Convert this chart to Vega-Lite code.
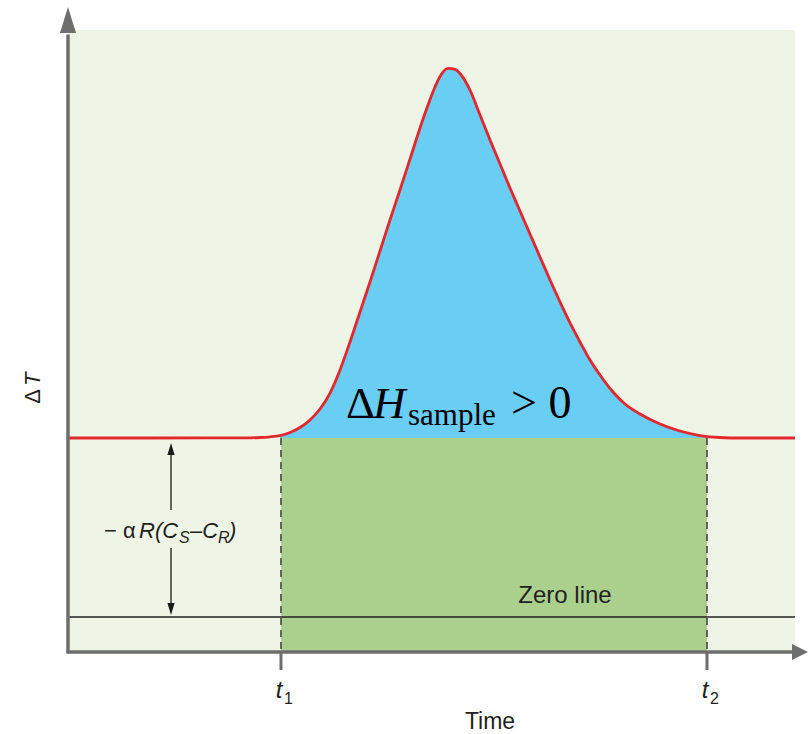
{
  "$schema": "https://vega.github.io/schema/vega-lite/v6.json",
  "width": 740,
  "height": 642,
  "autosize": "none",
  "padding": {"left": 68, "top": 10, "right": 0, "bottom": 82},
  "background": "white",
  "config": {"view": {"stroke": null}, "axis": {"grid": false}},
  "datasets": {
    "curve": [
      {"time": 0, "dT": 33.33}, {"time": 11.08, "dT": 33.33}, {"time": 24.6, "dT": 33.36},
      {"time": 25.95, "dT": 33.41}, {"time": 27.3, "dT": 33.52}, {"time": 28.65, "dT": 33.72},
      {"time": 30.0, "dT": 34.19}, {"time": 31.35, "dT": 34.97}, {"time": 32.7, "dT": 36.14},
      {"time": 34.05, "dT": 37.85}, {"time": 35.41, "dT": 40.34}, {"time": 36.76, "dT": 43.93},
      {"time": 38.11, "dT": 48.29}, {"time": 39.46, "dT": 52.96}, {"time": 40.81, "dT": 57.63},
      {"time": 42.16, "dT": 62.46}, {"time": 43.51, "dT": 67.29}, {"time": 44.86, "dT": 71.96},
      {"time": 46.22, "dT": 76.79}, {"time": 47.57, "dT": 81.62}, {"time": 48.65, "dT": 85.2},
      {"time": 49.59, "dT": 88.0}, {"time": 50.41, "dT": 89.9}, {"time": 51.35, "dT": 90.9},
      {"time": 52.3, "dT": 90.75}, {"time": 52.97, "dT": 90.1}, {"time": 54.32, "dT": 87.54},
      {"time": 55.68, "dT": 83.64}, {"time": 57.03, "dT": 79.75}, {"time": 58.38, "dT": 76.01},
      {"time": 59.73, "dT": 72.27}, {"time": 61.08, "dT": 68.69}, {"time": 62.43, "dT": 65.11},
      {"time": 63.78, "dT": 61.53}, {"time": 65.14, "dT": 57.94}, {"time": 66.49, "dT": 54.52},
      {"time": 67.84, "dT": 51.25}, {"time": 69.19, "dT": 48.29}, {"time": 70.54, "dT": 45.48},
      {"time": 71.89, "dT": 43.15}, {"time": 73.65, "dT": 40.5}, {"time": 75.27, "dT": 38.63},
      {"time": 77.3, "dT": 37.07}, {"time": 80.0, "dT": 35.51}, {"time": 82.7, "dT": 34.42},
      {"time": 85.41, "dT": 33.72}, {"time": 88.11, "dT": 33.41}, {"time": 90.81, "dT": 33.33},
      {"time": 98.24, "dT": 33.33}
    ],
    "bg": [{"x0": 0, "x1": 98.24, "y0": 0, "y1": 96.9}],
    "band": [{"t1": 28.78, "t2": 86.35, "lo": 0, "base": 33.33}],
    "limits": [
      {"time": 28.78, "top": 33.33, "bottom": 0, "tickEnd": -2.8, "label": "t", "sub": "1"},
      {"time": 86.35, "top": 33.33, "bottom": 0, "tickEnd": -2.8, "label": "t", "sub": "2"}
    ],
    "zero": [{"x0": 0, "x1": 98.24, "y": 5.45}],
    "axes": [
      {"id": "y", "x0": 0, "x1": 0, "y0": -0.2, "y1": 96.2},
      {"id": "x", "x0": -0.2, "x1": 98.6, "y0": 0, "y1": 0}
    ],
    "heads": [
      {"id": "yhead", "time": 0, "dT": 98.44},
      {"id": "xhead", "time": 98.92, "dT": 0}
    ],
    "span": [
      {"id": "upper", "time": 13.92, "from": 31.0, "to": 22.12},
      {"id": "lower", "time": 13.92, "from": 16.2, "to": 7.5}
    ],
    "spanHeads": [
      {"id": "up", "time": 13.92, "dT": 31.62},
      {"id": "down", "time": 13.92, "dT": 6.7}
    ],
    "anno": [
      {"id": "delta", "time": 37.57, "dT": 36.45, "text": "Δ"},
      {"id": "H", "time": 37.57, "dT": 36.45, "text": "H"},
      {"id": "sample", "time": 37.57, "dT": 36.45, "text": "sample"},
      {"id": "gt", "time": 37.57, "dT": 36.45, "text": "> 0"},
      {"id": "zero", "time": 67.16, "dT": 7.63, "text": "Zero line"},
      {"id": "timeTitle", "time": 57.03, "dT": -12.0, "text": "Time"},
      {"id": "minus", "time": 13.92, "dT": 17.76, "text": "− α"},
      {"id": "RC", "time": 13.92, "dT": 17.76, "text": "R(C"},
      {"id": "S", "time": 13.92, "dT": 17.76, "text": "S"},
      {"id": "dashC", "time": 13.92, "dT": 17.76, "text": "–C"},
      {"id": "R", "time": 13.92, "dT": 17.76, "text": "R"},
      {"id": "close", "time": 13.92, "dT": 17.76, "text": ")"},
      {"id": "ylabDelta", "time": -3.78, "dT": 41.12, "text": "Δ"},
      {"id": "ylabT", "time": -3.78, "dT": 41.12, "text": "T"}
    ]
  },
  "layer": [
    {
      "data": {"name": "bg"},
      "mark": {"type": "rect", "color": "#eef5e6"},
      "encoding": {
        "x": {"field": "x0", "type": "quantitative", "scale": {"domain": [0, 100], "nice": false, "zero": false}, "axis": null},
        "x2": {"field": "x1"},
        "y": {"field": "y0", "type": "quantitative", "scale": {"domain": [0, 100], "nice": false, "zero": false}, "axis": null},
        "y2": {"field": "y1"}
      }
    },
    {
      "data": {"name": "band"},
      "mark": {"type": "rect", "color": "#abd08d"},
      "encoding": {
        "x": {"field": "t1", "type": "quantitative", "scale": {"domain": [0, 100], "nice": false, "zero": false}, "axis": null},
        "x2": {"field": "t2"},
        "y": {"field": "lo", "type": "quantitative", "scale": {"domain": [0, 100], "nice": false, "zero": false}, "axis": null},
        "y2": {"field": "base"}
      }
    },
    {
      "data": {"name": "curve"},
      "transform": [{"filter": "datum.time >= 28.6 && datum.time <= 88.2"}],
      "mark": {"type": "area", "color": "#69cdf4", "interpolate": "monotone", "opacity": 1},
      "encoding": {
        "x": {"field": "time", "type": "quantitative", "scale": {"domain": [0, 100], "nice": false, "zero": false}, "axis": null},
        "y": {"field": "dT", "type": "quantitative", "scale": {"domain": [0, 100], "nice": false, "zero": false}, "axis": null},
        "y2": {"datum": 33.33}
      }
    },
    {
      "data": {"name": "zero"},
      "mark": {"type": "rule", "color": "#222222", "strokeWidth": 1.4},
      "encoding": {
        "x": {"field": "x0", "type": "quantitative", "scale": {"domain": [0, 100], "nice": false, "zero": false}, "axis": null},
        "x2": {"field": "x1"},
        "y": {"field": "y", "type": "quantitative", "scale": {"domain": [0, 100], "nice": false, "zero": false}, "axis": null}
      }
    },
    {
      "data": {"name": "limits"},
      "mark": {"type": "rule", "color": "#333333", "strokeWidth": 1.4, "strokeDash": [7, 5]},
      "encoding": {
        "x": {"field": "time", "type": "quantitative", "scale": {"domain": [0, 100], "nice": false, "zero": false}, "axis": null},
        "y": {"field": "top", "type": "quantitative", "scale": {"domain": [0, 100], "nice": false, "zero": false}, "axis": null},
        "y2": {"field": "bottom"}
      }
    },
    {
      "data": {"name": "limits"},
      "mark": {"type": "rule", "color": "#6e6e6e", "strokeWidth": 3},
      "encoding": {
        "x": {"field": "time", "type": "quantitative", "scale": {"domain": [0, 100], "nice": false, "zero": false}, "axis": null},
        "y": {"field": "bottom", "type": "quantitative", "scale": {"domain": [0, 100], "nice": false, "zero": false}, "axis": null},
        "y2": {"field": "tickEnd"}
      }
    },
    {
      "data": {"name": "curve"},
      "mark": {"type": "line", "color": "#e4262d", "strokeWidth": 2.8, "interpolate": "monotone"},
      "encoding": {
        "x": {"field": "time", "type": "quantitative", "scale": {"domain": [0, 100], "nice": false, "zero": false}, "axis": null},
        "y": {"field": "dT", "type": "quantitative", "scale": {"domain": [0, 100], "nice": false, "zero": false}, "axis": null}
      }
    },
    {
      "data": {"name": "axes"},
      "mark": {"type": "rule", "color": "#6e6e6e", "strokeWidth": 3.5},
      "encoding": {
        "x": {"field": "x0", "type": "quantitative", "scale": {"domain": [0, 100], "nice": false, "zero": false}, "axis": null},
        "x2": {"field": "x1"},
        "y": {"field": "y0", "type": "quantitative", "scale": {"domain": [0, 100], "nice": false, "zero": false}, "axis": null},
        "y2": {"field": "y1"}
      }
    },
    {
      "data": {"name": "heads"},
      "transform": [{"filter": "datum.id === 'yhead'"}],
      "mark": {"type": "point", "shape": "M0,-1L0.62,1L-0.62,1Z", "size": 676, "filled": true, "color": "#6e6e6e", "opacity": 1},
      "encoding": {
        "x": {"field": "time", "type": "quantitative", "scale": {"domain": [0, 100], "nice": false, "zero": false}, "axis": null},
        "y": {"field": "dT", "type": "quantitative", "scale": {"domain": [0, 100], "nice": false, "zero": false}, "axis": null}
      }
    },
    {
      "data": {"name": "heads"},
      "transform": [{"filter": "datum.id === 'xhead'"}],
      "mark": {"type": "point", "shape": "M1,0L-1,1L-1,-1Z", "size": 256, "filled": true, "color": "#6e6e6e", "opacity": 1},
      "encoding": {
        "x": {"field": "time", "type": "quantitative", "scale": {"domain": [0, 100], "nice": false, "zero": false}, "axis": null},
        "y": {"field": "dT", "type": "quantitative", "scale": {"domain": [0, 100], "nice": false, "zero": false}, "axis": null}
      }
    },
    {
      "data": {"name": "span"},
      "mark": {"type": "rule", "color": "#1a1a1a", "strokeWidth": 1.3},
      "encoding": {
        "x": {"field": "time", "type": "quantitative", "scale": {"domain": [0, 100], "nice": false, "zero": false}, "axis": null},
        "y": {"field": "from", "type": "quantitative", "scale": {"domain": [0, 100], "nice": false, "zero": false}, "axis": null},
        "y2": {"field": "to"}
      }
    },
    {
      "data": {"name": "spanHeads"},
      "transform": [{"filter": "datum.id === 'up'"}],
      "mark": {"type": "point", "shape": "M0,-1L0.6,1L-0.6,1Z", "size": 144, "filled": true, "color": "#1a1a1a", "opacity": 1},
      "encoding": {
        "x": {"field": "time", "type": "quantitative", "scale": {"domain": [0, 100], "nice": false, "zero": false}, "axis": null},
        "y": {"field": "dT", "type": "quantitative", "scale": {"domain": [0, 100], "nice": false, "zero": false}, "axis": null}
      }
    },
    {
      "data": {"name": "spanHeads"},
      "transform": [{"filter": "datum.id === 'down'"}],
      "mark": {"type": "point", "shape": "M0,1L0.6,-1L-0.6,-1Z", "size": 144, "filled": true, "color": "#1a1a1a", "opacity": 1},
      "encoding": {
        "x": {"field": "time", "type": "quantitative", "scale": {"domain": [0, 100], "nice": false, "zero": false}, "axis": null},
        "y": {"field": "dT", "type": "quantitative", "scale": {"domain": [0, 100], "nice": false, "zero": false}, "axis": null}
      }
    },
    {
      "data": {"name": "limits"},
      "mark": {"type": "text", "font": "Liberation Sans", "fontSize": 24, "fontStyle": "italic", "align": "center", "baseline": "alphabetic", "dx": -2, "color": "#231f20"},
      "encoding": {
        "x": {"field": "time", "type": "quantitative", "scale": {"domain": [0, 100], "nice": false, "zero": false}, "axis": null},
        "y": {"datum": -7.2, "type": "quantitative", "scale": {"domain": [0, 100], "nice": false, "zero": false}, "axis": null},
        "text": {"field": "label"}
      }
    },
    {
      "data": {"name": "limits"},
      "mark": {"type": "text", "font": "Liberation Sans", "fontSize": 16, "align": "left", "baseline": "alphabetic", "dx": 3, "dy": 6, "color": "#231f20"},
      "encoding": {
        "x": {"field": "time", "type": "quantitative", "scale": {"domain": [0, 100], "nice": false, "zero": false}, "axis": null},
        "y": {"datum": -7.2, "type": "quantitative", "scale": {"domain": [0, 100], "nice": false, "zero": false}, "axis": null},
        "text": {"field": "sub"}
      }
    },
    {
      "data": {"name": "anno"},
      "transform": [{"filter": "datum.id === 'delta'"}],
      "mark": {"type": "text", "font": "Liberation Serif", "fontSize": 45, "align": "left", "baseline": "alphabetic", "color": "#000000"},
      "encoding": {
        "x": {"field": "time", "type": "quantitative", "scale": {"domain": [0, 100], "nice": false, "zero": false}, "axis": null},
        "y": {"field": "dT", "type": "quantitative", "scale": {"domain": [0, 100], "nice": false, "zero": false}, "axis": null},
        "text": {"field": "text"}
      }
    },
    {
      "data": {"name": "anno"},
      "transform": [{"filter": "datum.id === 'H'"}],
      "mark": {"type": "text", "font": "Liberation Serif", "fontSize": 45, "fontStyle": "italic", "align": "left", "baseline": "alphabetic", "dx": 27, "color": "#000000"},
      "encoding": {
        "x": {"field": "time", "type": "quantitative", "scale": {"domain": [0, 100], "nice": false, "zero": false}, "axis": null},
        "y": {"field": "dT", "type": "quantitative", "scale": {"domain": [0, 100], "nice": false, "zero": false}, "axis": null},
        "text": {"field": "text"}
      }
    },
    {
      "data": {"name": "anno"},
      "transform": [{"filter": "datum.id === 'sample'"}],
      "mark": {"type": "text", "font": "Liberation Serif", "fontSize": 31, "align": "left", "baseline": "alphabetic", "dx": 62, "dy": 7, "color": "#000000"},
      "encoding": {
        "x": {"field": "time", "type": "quantitative", "scale": {"domain": [0, 100], "nice": false, "zero": false}, "axis": null},
        "y": {"field": "dT", "type": "quantitative", "scale": {"domain": [0, 100], "nice": false, "zero": false}, "axis": null},
        "text": {"field": "text"}
      }
    },
    {
      "data": {"name": "anno"},
      "transform": [{"filter": "datum.id === 'gt'"}],
      "mark": {"type": "text", "font": "Liberation Serif", "fontSize": 46, "align": "left", "baseline": "alphabetic", "dx": 165, "color": "#000000"},
      "encoding": {
        "x": {"field": "time", "type": "quantitative", "scale": {"domain": [0, 100], "nice": false, "zero": false}, "axis": null},
        "y": {"field": "dT", "type": "quantitative", "scale": {"domain": [0, 100], "nice": false, "zero": false}, "axis": null},
        "text": {"field": "text"}
      }
    },
    {
      "data": {"name": "anno"},
      "transform": [{"filter": "datum.id === 'zero'"}],
      "mark": {"type": "text", "font": "Liberation Sans", "fontSize": 24, "align": "center", "baseline": "alphabetic", "color": "#231f20"},
      "encoding": {
        "x": {"field": "time", "type": "quantitative", "scale": {"domain": [0, 100], "nice": false, "zero": false}, "axis": null},
        "y": {"field": "dT", "type": "quantitative", "scale": {"domain": [0, 100], "nice": false, "zero": false}, "axis": null},
        "text": {"field": "text"}
      }
    },
    {
      "data": {"name": "anno"},
      "transform": [{"filter": "datum.id === 'timeTitle'"}],
      "mark": {"type": "text", "font": "Liberation Sans", "fontSize": 23, "align": "center", "baseline": "alphabetic", "color": "#231f20"},
      "encoding": {
        "x": {"field": "time", "type": "quantitative", "scale": {"domain": [0, 100], "nice": false, "zero": false}, "axis": null},
        "y": {"field": "dT", "type": "quantitative", "scale": {"domain": [0, 100], "nice": false, "zero": false}, "axis": null},
        "text": {"field": "text"}
      }
    },
    {
      "data": {"name": "anno"},
      "transform": [{"filter": "datum.id === 'minus'"}],
      "mark": {"type": "text", "font": "Liberation Sans", "fontSize": 22, "align": "left", "baseline": "alphabetic", "dx": -67, "color": "#231f20"},
      "encoding": {
        "x": {"field": "time", "type": "quantitative", "scale": {"domain": [0, 100], "nice": false, "zero": false}, "axis": null},
        "y": {"field": "dT", "type": "quantitative", "scale": {"domain": [0, 100], "nice": false, "zero": false}, "axis": null},
        "text": {"field": "text"}
      }
    },
    {
      "data": {"name": "anno"},
      "transform": [{"filter": "datum.id === 'RC'"}],
      "mark": {"type": "text", "font": "Liberation Sans", "fontSize": 22, "fontStyle": "italic", "align": "left", "baseline": "alphabetic", "dx": -32, "color": "#231f20"},
      "encoding": {
        "x": {"field": "time", "type": "quantitative", "scale": {"domain": [0, 100], "nice": false, "zero": false}, "axis": null},
        "y": {"field": "dT", "type": "quantitative", "scale": {"domain": [0, 100], "nice": false, "zero": false}, "axis": null},
        "text": {"field": "text"}
      }
    },
    {
      "data": {"name": "anno"},
      "transform": [{"filter": "datum.id === 'S'"}],
      "mark": {"type": "text", "font": "Liberation Sans", "fontSize": 16, "fontStyle": "italic", "align": "left", "baseline": "alphabetic", "dx": 8, "dy": 5, "color": "#231f20"},
      "encoding": {
        "x": {"field": "time", "type": "quantitative", "scale": {"domain": [0, 100], "nice": false, "zero": false}, "axis": null},
        "y": {"field": "dT", "type": "quantitative", "scale": {"domain": [0, 100], "nice": false, "zero": false}, "axis": null},
        "text": {"field": "text"}
      }
    },
    {
      "data": {"name": "anno"},
      "transform": [{"filter": "datum.id === 'dashC'"}],
      "mark": {"type": "text", "font": "Liberation Sans", "fontSize": 22, "fontStyle": "italic", "align": "left", "baseline": "alphabetic", "dx": 19, "color": "#231f20"},
      "encoding": {
        "x": {"field": "time", "type": "quantitative", "scale": {"domain": [0, 100], "nice": false, "zero": false}, "axis": null},
        "y": {"field": "dT", "type": "quantitative", "scale": {"domain": [0, 100], "nice": false, "zero": false}, "axis": null},
        "text": {"field": "text"}
      }
    },
    {
      "data": {"name": "anno"},
      "transform": [{"filter": "datum.id === 'R'"}],
      "mark": {"type": "text", "font": "Liberation Sans", "fontSize": 16, "fontStyle": "italic", "align": "left", "baseline": "alphabetic", "dx": 47, "dy": 5, "color": "#231f20"},
      "encoding": {
        "x": {"field": "time", "type": "quantitative", "scale": {"domain": [0, 100], "nice": false, "zero": false}, "axis": null},
        "y": {"field": "dT", "type": "quantitative", "scale": {"domain": [0, 100], "nice": false, "zero": false}, "axis": null},
        "text": {"field": "text"}
      }
    },
    {
      "data": {"name": "anno"},
      "transform": [{"filter": "datum.id === 'close'"}],
      "mark": {"type": "text", "font": "Liberation Sans", "fontSize": 22, "fontStyle": "italic", "align": "left", "baseline": "alphabetic", "dx": 58, "color": "#231f20"},
      "encoding": {
        "x": {"field": "time", "type": "quantitative", "scale": {"domain": [0, 100], "nice": false, "zero": false}, "axis": null},
        "y": {"field": "dT", "type": "quantitative", "scale": {"domain": [0, 100], "nice": false, "zero": false}, "axis": null},
        "text": {"field": "text"}
      }
    },
    {
      "data": {"name": "anno"},
      "transform": [{"filter": "datum.id === 'ylabDelta'"}],
      "mark": {"type": "text", "font": "Liberation Sans", "fontSize": 22, "angle": 270, "align": "right", "baseline": "alphabetic", "dx": -1, "color": "#231f20"},
      "encoding": {
        "x": {"field": "time", "type": "quantitative", "scale": {"domain": [0, 100], "nice": false, "zero": false}, "axis": null},
        "y": {"field": "dT", "type": "quantitative", "scale": {"domain": [0, 100], "nice": false, "zero": false}, "axis": null},
        "text": {"field": "text"}
      }
    },
    {
      "data": {"name": "anno"},
      "transform": [{"filter": "datum.id === 'ylabT'"}],
      "mark": {"type": "text", "font": "Liberation Sans", "fontSize": 22, "fontStyle": "italic", "angle": 270, "align": "left", "baseline": "alphabetic", "dx": 2, "color": "#231f20"},
      "encoding": {
        "x": {"field": "time", "type": "quantitative", "scale": {"domain": [0, 100], "nice": false, "zero": false}, "axis": null},
        "y": {"field": "dT", "type": "quantitative", "scale": {"domain": [0, 100], "nice": false, "zero": false}, "axis": null},
        "text": {"field": "text"}
      }
    }
  ]
}
